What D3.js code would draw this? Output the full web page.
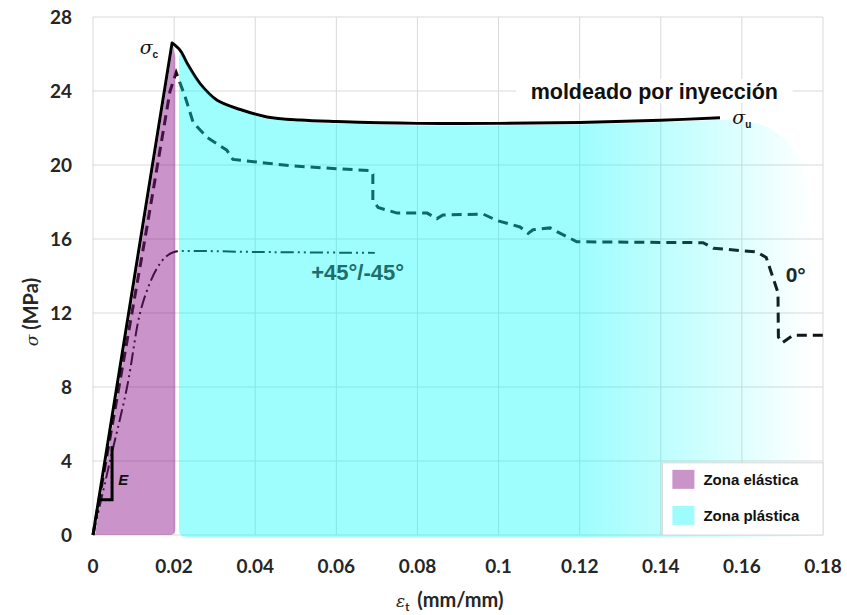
<!DOCTYPE html>
<html lang="es">
<head>
<meta charset="UTF-8">
<title>Curva esfuerzo-deformación</title>
<script src="https://cdn.jsdelivr.net/npm/d3@7"></script>
<style>
    body { margin: 0; background: #fff; }
    svg { display: block; }
    .tick-label { font-family: Lato, 'Open Sans', sans-serif; font-weight: 700; font-size: 19px; fill: #262626; }
    .axis-title { font-family: Lato, 'Open Sans', sans-serif; font-weight: 700; font-size: 20px; fill: #262626; }
    .note { font-family: 'Liberation Sans', Arial, sans-serif; font-weight: 700; }
</style>
</head>
<body>
<svg id="chart" width="847" height="615"></svg>
<script>
// --- data ---
const xTicks = [0, 0.02, 0.04, 0.06, 0.08, 0.1, 0.12, 0.14, 0.16, 0.18];
const xTickLabels = ["0", "0.02", "0.04", "0.06", "0.08", "0.1", "0.12", "0.14", "0.16", "0.18"];
const yTicks = [0, 4, 8, 12, 16, 20, 24, 28];

// moldeado por inyección (solid) - linear rise to the peak, then smooth
const injX = [0, 0.0195, 0.0215, 0.0232, 0.0264, 0.0306, 0.0363, 0.0429, 0.051, 0.06, 0.08, 0.1, 0.12, 0.14, 0.1546];
const injY = [0, 26.6, 26.2, 25.5, 24.4, 23.5, 23.0, 22.6, 22.43, 22.35, 22.25, 22.25, 22.3, 22.42, 22.55];

// 0° (dashed)
const zeroX = [0, 0.0128, 0.019, 0.0205, 0.0227, 0.0247, 0.0281, 0.033, 0.0345, 0.0429, 0.0493, 0.06, 0.0683, 0.069, 0.069, 0.0703, 0.075, 0.0824, 0.0848, 0.0863, 0.0962, 0.0996, 0.1053, 0.1073, 0.1085, 0.1127, 0.1144, 0.118, 0.1193, 0.1504, 0.153, 0.1637, 0.166, 0.1689, 0.169, 0.170, 0.1726, 0.18];
const zeroY = [0, 16, 24, 25.0, 23.7, 22.3, 21.5, 20.8, 20.3, 20.1, 19.95, 19.8, 19.7, 19.5, 18.1, 17.7, 17.4, 17.4, 17.1, 17.3, 17.35, 17.0, 16.65, 16.3, 16.5, 16.6, 16.4, 16.0, 15.85, 15.8, 15.5, 15.3, 15.0, 13.1, 10.7, 10.4, 10.8, 10.8];

// +45°/-45° (dash-dot-dot)
const angX = [0, 0.0042, 0.0084, 0.0116, 0.014, 0.016, 0.018, 0.02, 0.023, 0.04, 0.0695];
const angY = [0, 4, 8, 12, 13.6, 14.5, 15.05, 15.3, 15.35, 15.3, 15.25];

// zones
const elasticEnd = 0.0203;
const plasticStart = 0.0212;
const plasticEnd = 0.177;
const legendItems = ["Zona elástica", "Zona plástica"];

// --- layout ---
const svg = d3.select("#chart");
const margin = { left: 93, right: 24, top: 17, bottom: 80 };
const width = 847, height = 615;

const x = d3.scaleLinear().domain([0, 0.18]).range([margin.left, width - margin.right]);
const y = d3.scaleLinear().domain([0, 28]).range([height - margin.bottom, margin.top]);

// grid
const grid = svg.append("g").attr("stroke", "#d9d9d9").attr("stroke-width", 1);
grid.selectAll("line.v").data(xTicks).enter().append("line")
    .attr("x1", d => x(d)).attr("x2", d => x(d))
    .attr("y1", y(0)).attr("y2", y(28));
grid.selectAll("line.h").data(yTicks).enter().append("line")
    .attr("x1", x(0)).attr("x2", x(0.18))
    .attr("y1", d => y(d)).attr("y2", d => y(d));

// tick labels
svg.selectAll("text.yt").data(yTicks).enter().append("text")
    .attr("class", "tick-label")
    .attr("x", x(0) - 21).attr("y", d => y(d))
    .attr("dy", "0.36em").attr("text-anchor", "end")
    .text(d => d);
svg.selectAll("text.xt").data(xTicks).enter().append("text")
    .attr("class", "tick-label")
    .attr("x", d => x(d)).attr("y", y(0) + 31)
    .attr("dy", "0.36em").attr("text-anchor", "middle")
    .text((d, i) => xTickLabels[i]);

// curves (drawn dark, zones overlay them)
const zip = (a, b) => a.map((v, i) => [v, b[i]]);
const lin = d3.line().x(d => x(d[0])).y(d => y(d[1])).curve(d3.curveLinear);
const cat = d3.line().x(d => x(d[0])).y(d => y(d[1])).curve(d3.curveCatmullRom.alpha(0.5));

svg.append("path").datum(zip(angX, angY))
    .attr("d", cat)
    .attr("fill", "none").attr("stroke", "#111").attr("stroke-width", 2)
    .attr("stroke-dasharray", "13,4,2,4,2,4");

svg.append("path").datum(zip(zeroX, zeroY))
    .attr("d", lin)
    .attr("fill", "none").attr("stroke", "#111").attr("stroke-width", 3)
    .attr("stroke-dasharray", "10,6");

const peakI = 1;
const inj = zip(injX, injY);
svg.append("path")
    .attr("d", lin(inj.slice(0, peakI + 1)) + cat(inj.slice(peakI)).replace(/^M/, "L"))
    .attr("fill", "none").attr("stroke", "#000").attr("stroke-width", 3)
    .attr("stroke-linejoin", "round");

// zones
const defs = svg.append("defs");
const grad = defs.append("linearGradient").attr("id", "fade")
    .attr("gradientUnits", "userSpaceOnUse")
    .attr("x1", x(0.12)).attr("x2", x(0.178)).attr("y1", 0).attr("y2", 0);
grad.append("stop").attr("offset", 0).attr("stop-color", "rgb(0,250,250)").attr("stop-opacity", 0.38);
grad.append("stop").attr("offset", 0.5).attr("stop-color", "rgb(0,250,250)").attr("stop-opacity", 0.2);
grad.append("stop").attr("offset", 1).attr("stop-color", "rgb(0,250,250)").attr("stop-opacity", 0);

// elastic zone: under the rising solid line up to elasticEnd
const p = d3.path();
const r = 6;
p.moveTo(x(0) + 2, y(0));
p.lineTo(x(injX[peakI]) + 1, y(injY[peakI]) + 3);
p.lineTo(x(elasticEnd), y(injY[peakI]) + 14);
p.lineTo(x(elasticEnd), y(0) - r);
p.quadraticCurveTo(x(elasticEnd), y(0), x(elasticEnd) - r, y(0));
p.closePath();
svg.append("path").attr("d", p.toString())
    .attr("fill", "rgb(138,16,136)").attr("fill-opacity", 0.45);

// plastic zone: under the solid line after the peak
const topPts = inj.filter(d => d[0] >= plasticStart - 0.0005);
const q = d3.path();
const rb = 8;
q.moveTo(x(plasticStart), y(0) + 2 - rb);
q.lineTo(x(plasticStart), y(25.9) + 2);
topPts.forEach(d => q.lineTo(x(d[0]), y(d[1]) + 2));
q.bezierCurveTo(x(plasticEnd) - 10, y(22.5), x(plasticEnd), y(20), x(plasticEnd), y(15));
q.lineTo(x(plasticEnd), y(0) + 2);
q.lineTo(x(plasticStart) + rb, y(0) + 2);
q.quadraticCurveTo(x(plasticStart), y(0) + 2, x(plasticStart), y(0) + 2 - rb);
q.closePath();
svg.append("path").attr("d", q.toString()).attr("fill", "url(#fade)");

// labels on the chart
const lbl = svg.append("g").attr("class", "note");
lbl.append("rect")
    .attr("x", x(0.1043)).attr("y", y(24) - 12).attr("width", x(0.1725) - x(0.1043)).attr("height", 24)
    .attr("fill", "#fff");
lbl.append("text").attr("x", x(0.1384)).attr("y", y(24)).attr("dy", "0.36em")
    .attr("text-anchor", "middle").attr("font-size", 21.5).attr("fill", "#111")
    .text("moldeado por inyección");
lbl.append("text").attr("x", x(0.0538)).attr("y", y(14.2)).attr("dy", "0.36em")
    .attr("font-size", 22).attr("fill", "#1f6e6e").text("+45°/-45°");
lbl.append("text").attr("x", x(0.1708)).attr("y", y(14.1)).attr("dy", "0.36em")
    .attr("font-size", 21).attr("fill", "#1a2a2a").text("0°");

function sigma(xp, yp, sub) {
    const t = svg.append("text").attr("x", xp).attr("y", yp)
        .attr("font-family", "'DejaVu Serif', serif").attr("font-style", "italic")
        .attr("font-size", 19).attr("fill", "#111").text("σ");
    t.append("tspan").attr("font-family", "'Liberation Sans', Arial, sans-serif")
        .attr("font-style", "normal").attr("font-weight", 700)
        .attr("font-size", 10).attr("dy", 4).text(sub);
}
sigma(x(0.0115), y(26.0), "c");
sigma(x(0.1576), y(22.2), "u");

// E slope marker
svg.append("path")
    .attr("d", `M${x(0.0047)},${y(4.8)} L${x(0.0047)},${y(1.9)} L${x(0.0013)},${y(1.9)}`)
    .attr("fill", "none").attr("stroke", "#000").attr("stroke-width", 3);
svg.append("text").attr("x", x(0.0062)).attr("y", y(3.0)).attr("dy", "0.36em")
    .attr("font-family", "'Liberation Sans', Arial, sans-serif").attr("font-weight", 700)
    .attr("font-style", "italic").attr("font-size", 15).attr("fill", "#111").text("E");

// axis titles
const xt = svg.append("text").attr("class", "axis-title")
    .attr("x", (x(0) + x(0.18)) / 2 - 62).attr("y", height - 8);
xt.append("tspan").attr("font-family", "'DejaVu Serif', serif").attr("font-style", "italic")
    .attr("font-weight", 400).attr("font-size", 17).text("ε");
xt.append("tspan").attr("font-size", 11).attr("dy", 4).text("t");
xt.append("tspan").attr("dy", -4).attr("dx", 8).text("(mm/mm)");

const yt = svg.append("text").attr("class", "axis-title")
    .attr("transform", `translate(38, ${(y(0) + y(28)) / 2 + 36}) rotate(-90)`)
    .attr("text-anchor", "middle");
yt.append("tspan").attr("font-family", "'DejaVu Serif', serif").attr("font-style", "italic")
    .attr("font-weight", 400).attr("font-size", 17).text("σ");
yt.append("tspan").text(" (MPa)");

// legend
const lg = svg.append("g").attr("transform", `translate(${x(0.1404)}, ${y(3.9)})`);
const lgW = x(0.18) - x(0.1404), lgH = y(0) - y(3.9);
lg.append("rect").attr("width", lgW).attr("height", lgH)
    .attr("fill", "#fff").attr("stroke", "#d9d9d9");
const swatch = ["#c994c8", "#9ffcfc"];
legendItems.forEach((name, i) => {
    lg.append("rect").attr("x", 10).attr("y", 7 + i * 36).attr("width", 22).attr("height", 19)
        .attr("fill", swatch[i]);
    lg.append("text").attr("class", "note").attr("x", 41).attr("y", 17 + i * 36)
        .attr("dy", "0.36em").attr("font-size", 15).attr("fill", "#111").text(name);
});
</script>
</body>
</html>
